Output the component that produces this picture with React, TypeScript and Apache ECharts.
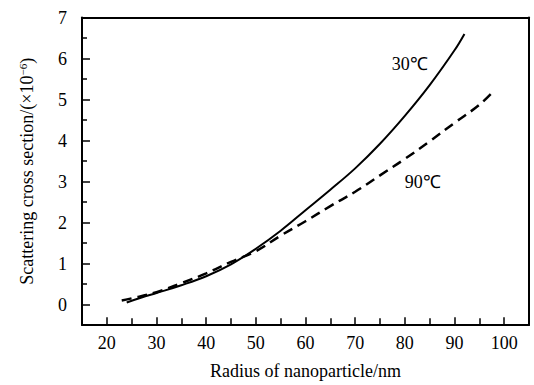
import React, { useEffect, useRef } from "react";
import * as echarts from "echarts";

const solidX = [24, 27, 30, 35, 40, 45, 50, 55, 60, 65, 70, 75, 80, 85, 90, 92];
const solidY = [0.05, 0.17, 0.28, 0.47, 0.69, 0.98, 1.36, 1.8, 2.3, 2.8, 3.32, 3.92, 4.6, 5.35, 6.2, 6.6];
const dashX = [23, 25, 30, 35, 40, 45, 50, 55, 60, 65, 70, 75, 80, 85, 90, 95, 98];
const dashY = [0.1, 0.15, 0.3, 0.52, 0.76, 1.04, 1.3, 1.68, 2.03, 2.4, 2.75, 3.15, 3.55, 3.98, 4.43, 4.87, 5.22];

// axis ranges, ticks and labels
const xRange = [15, 105];
const yRange = [-0.5, 7];
const xMajor = [20, 30, 40, 50, 60, 70, 80, 90, 100];
const xMinor = [25, 35, 45, 55, 65, 75, 85, 95];
const yMajor = [0, 1, 2, 3, 4, 5, 6, 7];
const yMinor = [0.5, 1.5, 2.5, 3.5, 4.5, 5.5, 6.5];

const label30 = { text: "30℃", x: 81, y: 5.86 };
const label90 = { text: "90℃", x: 83.6, y: 2.98 };

const FONT = "Liberation Serif";

export default function App() {
  const ref = useRef<HTMLDivElement>(null);
  useEffect(() => {
    if (!ref.current) return;
    const chart = echarts.init(ref.current, undefined, { renderer: "svg" });
    const txt = { fontFamily: FONT, fontSize: 18, color: "#000" };
    const frameLine = () => ({ show: true, onZero: false, lineStyle: { color: "#000", width: 2 } });
    // tick lengths expressed in data units (plot is ~41.9 px per y unit, ~4.975 px per x unit)
    const xTickLen = (px: number) => px / 41.9;
    const yTickLen = (px: number) => px / 4.975;
    const tickLines: any[] = [
      ...xMajor.map((v) => [{ coord: [v, yRange[0]] }, { coord: [v, yRange[0] + xTickLen(8)] }]),
      ...xMinor.map((v) => [{ coord: [v, yRange[0]] }, { coord: [v, yRange[0] + xTickLen(7)] }]),
      ...yMajor.map((v) => [{ coord: [xRange[0], v] }, { coord: [xRange[0] + yTickLen(8), v] }]),
      ...yMinor.map((v) => [{ coord: [xRange[0], v] }, { coord: [xRange[0] + yTickLen(5), v] }]),
    ];
    chart.setOption({
      animation: false,
      backgroundColor: "#fff",
      grid: { left: 82, right: 5, top: 17.5, bottom: 54 },
      xAxis: [
        {
          type: "value",
          min: xRange[0],
          max: xRange[1],
          name: "Radius of nanoparticle/nm",
          nameLocation: "middle",
          nameGap: 37,
          nameTextStyle: txt,
          axisLine: frameLine(),
          axisTick: { show: false },
          axisLabel: { show: true, customValues: xMajor, margin: 9, ...txt },
          splitLine: { show: false },
        },
        {
          type: "value",
          min: xRange[0],
          max: xRange[1],
          position: "top",
          axisLine: frameLine(),
          axisTick: { show: false },
          axisLabel: { show: false },
          splitLine: { show: false },
        },
      ],
      yAxis: [
        {
          type: "value",
          min: yRange[0],
          max: yRange[1],
          name: "Scattering cross section/(×10{sup|−6})",
          nameLocation: "middle",
          nameGap: 45,
          nameRotate: 90,
          nameTextStyle: {
            ...txt,
            lineHeight: 20,
            rich: { sup: { fontFamily: FONT, fontSize: 11, lineHeight: 11, verticalAlign: "top", color: "#000" } },
          },
          axisLine: frameLine(),
          axisTick: { show: false },
          axisLabel: { show: true, customValues: yMajor, margin: 15, ...txt },
          splitLine: { show: false },
        },
        {
          type: "value",
          min: yRange[0],
          max: yRange[1],
          position: "right",
          axisLine: frameLine(),
          axisTick: { show: false },
          axisLabel: { show: false },
          splitLine: { show: false },
        },
      ],
      series: [
        {
          type: "line",
          name: "30",
          data: solidX.map((x, i) => [x, solidY[i]]),
          smooth: 0.4,
          showSymbol: false,
          lineStyle: { color: "#000", width: 2, type: "solid" },
          markPoint: {
            symbol: "circle",
            symbolSize: 0,
            data: [{ coord: [label30.x, label30.y], value: label30.text }],
            label: { show: true, position: "inside", formatter: label30.text, ...txt },
          },
          markLine: {
            silent: true,
            symbol: ["none", "none"],
            label: { show: false },
            emphasis: { disabled: true },
            lineStyle: { color: "#000", width: 1.5, type: "solid" },
            data: tickLines,
          },
        },
        {
          type: "line",
          name: "90",
          data: dashX.map((x, i) => [x, dashY[i]]),
          smooth: 0.4,
          showSymbol: false,
          lineStyle: { color: "#000", width: 2.5, type: [10, 6] },
          markPoint: {
            symbol: "circle",
            symbolSize: 0,
            data: [{ coord: [label90.x, label90.y], value: label90.text }],
            label: { show: true, position: "inside", formatter: label90.text, ...txt },
          },
        },
      ],
    });
    return () => chart.dispose();
  }, []);
  return <div ref={ref} style={{ width: 534, height: 385, position: "absolute", left: 0, top: 0 }} />;
}
